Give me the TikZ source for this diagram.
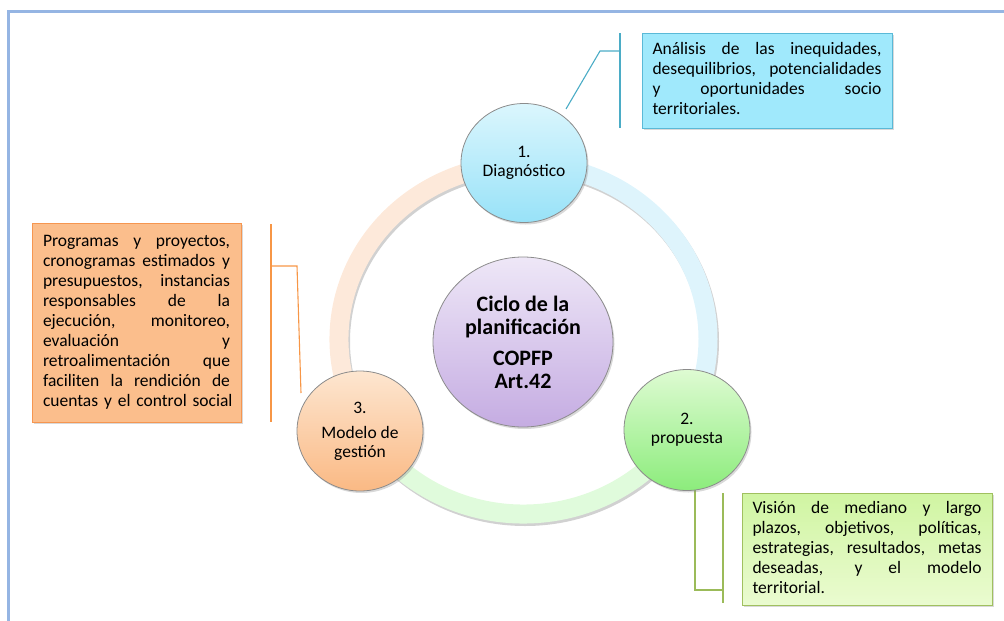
\documentclass[tikz,border=0pt]{standalone}
\usepackage{fontspec}
\setmainfont{Carlito}
\usetikzlibrary{shapes.geometric,shadows}
\definecolor{framec}{RGB}{149,181,227}
\definecolor{diagTop}{RGB}{219,246,253}
\definecolor{diagBot}{RGB}{152,226,248}
\definecolor{propTop}{RGB}{222,251,210}
\definecolor{propBot}{RGB}{140,236,124}
\definecolor{modTop}{RGB}{253,230,208}
\definecolor{modBot}{RGB}{250,185,132}
\definecolor{cenTop}{RGB}{238,231,247}
\definecolor{cenBot}{RGB}{197,172,226}
\definecolor{circB}{RGB}{140,140,140}
\definecolor{ringBlue}{RGB}{222,244,252}
\definecolor{ringGreen}{RGB}{224,251,220}
\definecolor{ringOrange}{RGB}{253,233,218}
\definecolor{boxBlueF}{RGB}{160,233,252}
\definecolor{boxBlueD}{RGB}{90,185,215}
\definecolor{boxOrF}{RGB}{251,190,140}
\definecolor{boxOrD}{RGB}{246,150,80}
\definecolor{boxGrT}{RGB}{208,245,162}
\definecolor{boxGrB}{RGB}{234,251,208}
\definecolor{boxGrD}{RGB}{160,192,95}
\definecolor{callBlue}{RGB}{75,172,198}
\definecolor{callOr}{RGB}{247,150,70}
\definecolor{callGr}{RGB}{155,187,89}
\newcommand\jl[1]{\hbox to\hsize{\strut\spaceskip=0.226em plus 1fil minus 0.06em\relax #1}}
\newcommand\lastl[1]{\hbox to\hsize{\strut #1\hfill}}
\tikzset{
  bubble/.style={ellipse, inner sep=0pt, draw=circB, line width=0.8pt,
    minimum width=126pt, minimum height=119pt, align=center,
    font=\fontsize{17.5}{19}\selectfont,
    drop shadow={shadow xshift=1.5pt, shadow yshift=-2pt, opacity=.3}},
  textbox/.style={rectangle, inner ysep=0pt, line width=0.9pt,
    font=\fontsize{17.5}{20}\selectfont,
    drop shadow={shadow xshift=2pt, shadow yshift=-2pt, opacity=.3}},
  ringseg/.style={line width=19pt},
  callout/.style={line width=1.1pt},
}
\begin{document}
\begin{tikzpicture}[x=1pt,y=-1pt]
\useasboundingbox (0,0) rectangle (1004,621);
% frame
\coordinate (fTL) at (8,11);
\coordinate (fTR) at (1004,11);
\coordinate (fBL) at (8,621);
\draw[framec, line width=3pt] (fBL) -- (fTL) -- (fTR);

% ring
\coordinate (ring) at (523.5,339);
\draw[ringseg, black, opacity=.18] ([xshift=1.5pt,yshift=-2.5pt]ring) ellipse [x radius=184.5pt, y radius=175pt];
\draw[ringseg, ringBlue] (ring) ++(90:184.5pt and 175pt) arc[start angle=90, end angle=-28, x radius=184.5pt, y radius=175pt];
\draw[ringseg, ringGreen] (ring) ++(-28:184.5pt and 175pt) arc[start angle=-28, end angle=-152, x radius=184.5pt, y radius=175pt];
\draw[ringseg, ringOrange] (ring) ++(208:184.5pt and 175pt) arc[start angle=208, end angle=90, x radius=184.5pt, y radius=175pt];

% callout lines
\coordinate (bTop) at (620,33);
\coordinate (bBot) at (620,128);
\coordinate (bK) at (620,51);
\coordinate (bE) at (600,51);
\coordinate (bT) at (566,109);
\draw[callout, callBlue] (bTop) -- (bBot);
\draw[callout, callBlue] (bK) -- (bE) -- (bT);

\coordinate (oTop) at (271,224);
\coordinate (oBot) at (271,422);
\coordinate (oK) at (271,266);
\coordinate (oE) at (297,266);
\coordinate (oT) at (301,393);
\draw[callout, callOr] (oTop) -- (oBot);
\draw[callout, callOr] (oK) -- (oE) -- (oT);

\coordinate (gTop) at (723,493);
\coordinate (gBot) at (723,603);
\coordinate (gK) at (723,590);
\coordinate (gE) at (695,590);
\coordinate (gT) at (695,490);
\draw[callout, callGr] (gTop) -- (gBot);
\draw[callout, callGr] (gK) -- (gE) -- (gT);

% circles
\node[bubble, top color=diagTop, bottom color=diagBot] (diag) at (524,163) {1.\\Diagnóstico};
\node[bubble, top color=propTop, bottom color=propBot, minimum height=121pt] (prop) at (687,430) {2.\\propuesta};
\node[bubble, top color=modTop, bottom color=modBot, minimum height=120pt] (mod) at (360,431) {3.\\[6pt]Modelo de\\gestión};
\node[bubble, top color=cenTop, bottom color=cenBot, minimum width=180pt, minimum height=170pt,
  font=\bfseries\fontsize{22}{23}\selectfont] (cen) at (523,342) {Ciclo de la\\planificación\\[8pt]COPFP\\Art.42};

% text boxes
\node[textbox, fill=boxBlueF, draw=boxBlueD, minimum width=250pt, minimum height=95pt, text width=229pt] (tb) at (767,80.5) {%
\jl{Análisis de las inequidades,}
\jl{desequilibrios, potencialidades}
\jl{y oportunidades socio}
\lastl{territoriales.}};

\node[textbox, fill=boxOrF, draw=boxOrD, minimum width=209pt, minimum height=199pt, text width=187pt] (to) at (136.5,322.5) {%
\jl{Programas y proyectos,}
\jl{cronogramas estimados y}
\jl{presupuestos, instancias}
\jl{responsables de la}
\jl{ejecución, monitoreo,}
\jl{evaluación y}
\jl{retroalimentación que}
\jl{faciliten la rendición de}
\lastl{cuentas y el control social}};

\node[textbox, top color=boxGrT, bottom color=boxGrB, draw=boxGrD, minimum width=250pt, minimum height=112pt, text width=229pt] (tg) at (867,549) {%
\jl{Visión de mediano y largo}
\jl{plazos, objetivos, políticas,}
\jl{estrategias, resultados, metas}
\jl{deseadas, y el modelo}
\lastl{territorial.}};
\end{tikzpicture}
\end{document}
